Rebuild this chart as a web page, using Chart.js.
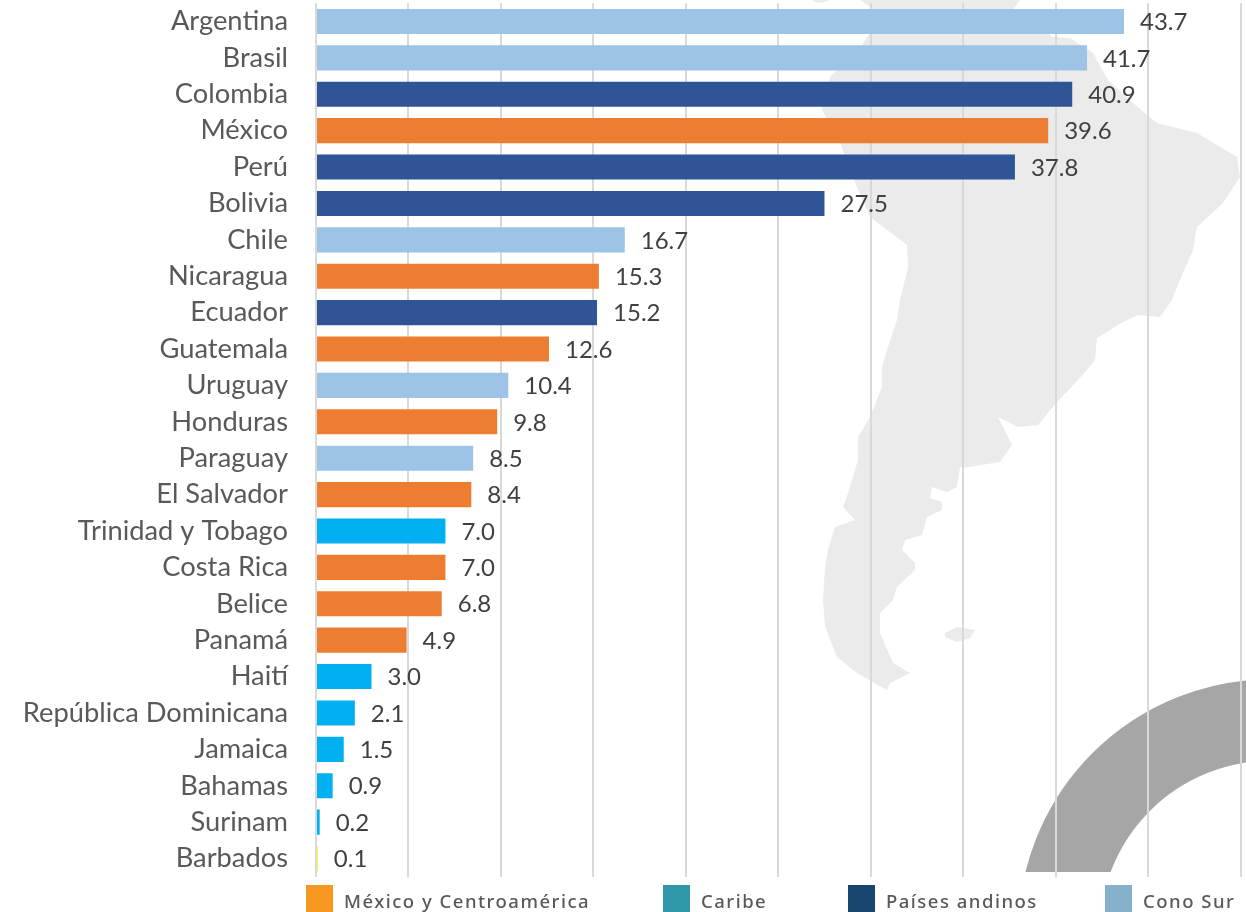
<!DOCTYPE html>
<html lang="es">
<head>
  <meta charset="UTF-8" />
  <title>América Latina y el Caribe</title>
  <style>
    html, body { margin: 0; background: #fff; overflow: hidden; }
    #wrap { position: relative; width: 1246px; height: 912px; overflow: hidden; }
    #bg, #chart { position: absolute; left: 0; top: 0; }
    .swatch { position: absolute; top: 885px; width: 27px; height: 27px; }
    .legend-text {
      position: absolute; top: 889px; line-height: 24px; white-space: nowrap;
      font-family: "Noto Sans", sans-serif; font-size: 18.5px; font-weight: 500;
      letter-spacing: 1.5px; color: #58595b;
    }
  </style>
</head>
<body>
  <div id="wrap">
    <!-- background art: map and ring, sits under the transparent canvas -->
    <svg id="bg" width="1246" height="912">
      <defs><clipPath id="ringClip"><rect x="0" y="0" width="1246" height="872" /></clipPath></defs>
      <polygon fill="#ebebeb" points="860,0 870,7 870,33 862,45 830,77 822,110 840,143 857,187 870,217 907,245 908,267 900,300 897,320 887,350 882,367 882,387 870,417 858,437 858,460 852,480 848,493 843,507 855,520 835,527 828,550 825,567 823,600 825,627 837,657 857,673 887,690 890,683 910,673 893,663 880,633 880,613 893,600 897,587 915,570 915,563 902,550 905,540 922,535 927,517 942,510 942,502 930,498 932,487 947,492 957,487 960,467 963,468 1000,462 1012,445 1007,435 998,417 1018,427 1038,425 1057,402 1080,378 1095,360 1097,338 1123,322 1138,315 1160,317 1172,300 1177,287 1193,250 1197,227 1223,203 1240,177 1237,157 1197,133 1157,123 1133,103 1108,80 1093,53 1070,38 1053,37 1019,15 1013,10 1020,0" />
      <polygon fill="#ebebeb" points="812,0 830,0 822,3 815,2" />
      <polygon fill="#ebebeb" points="945,633 957,627 975,630 970,638 957,642 945,637" />
      <circle cx="1271" cy="932" r="212" fill="none" stroke="#a6a6a6" stroke-width="81.5" clip-path="url(#ringClip)" />
    </svg>
    <canvas id="chart" width="1246" height="912"></canvas>
  </div>

  <script src="https://cdn.jsdelivr.net/npm/chart.js"></script>
  <script>
    const countries = ["Argentina", "Brasil", "Colombia", "México", "Perú", "Bolivia", "Chile", "Nicaragua", "Ecuador", "Guatemala", "Uruguay", "Honduras", "Paraguay", "El Salvador", "Trinidad y Tobago", "Costa Rica", "Belice", "Panamá", "Haití", "República Dominicana", "Jamaica", "Bahamas", "Surinam", "Barbados"];
    const values = [43.7, 41.7, 40.9, 39.6, 37.8, 27.5, 16.7, 15.3, 15.2, 12.6, 10.4, 9.8, 8.5, 8.4, 7.0, 7.0, 6.8, 4.9, 3.0, 2.1, 1.5, 0.9, 0.2, 0.1];
    const barColors = ["#9dc3e6", "#9dc3e6", "#2f5597", "#ed7d31", "#2f5597", "#2f5597", "#9dc3e6", "#ed7d31", "#2f5597", "#ed7d31", "#9dc3e6", "#ed7d31", "#9dc3e6", "#ed7d31", "#00b0f0", "#ed7d31", "#ed7d31", "#ed7d31", "#00b0f0", "#00b0f0", "#00b0f0", "#00b0f0", "#00b0f0", "#ffff00"];
    const legendNames = ["México y Centroamérica", "Caribe", "Países andinos", "Cono Sur"];
    const legendColors = ["#f6981f", "#2f97a8", "#16466e", "#85b1cd"];

    // legend sits at uneven spots in the original, so plain elements are easier
    const swatchLeft = [306, 663, 848, 1105];
    const textLeft = [344, 701, 886, 1143];
    const wrap = document.getElementById("wrap");
    legendNames.forEach((name, i) => {
      const sw = document.createElement("div");
      sw.className = "swatch";
      sw.style.left = swatchLeft[i] + "px";
      sw.style.background = legendColors[i];
      wrap.appendChild(sw);
      const txt = document.createElement("div");
      txt.className = "legend-text";
      txt.style.left = textLeft[i] + "px";
      txt.textContent = name;
      wrap.appendChild(txt);
    });

    const valueLabels = {
      id: "valueLabels",
      afterDatasetsDraw(chart) {
        const ctx = chart.ctx;
        ctx.save();
        ctx.font = '24px Lato, sans-serif';
        ctx.fillStyle = "#404040";
        ctx.textAlign = "left";
        ctx.textBaseline = "middle";
        chart.getDatasetMeta(0).data.forEach((bar, i) => {
          ctx.fillText(values[i].toFixed(1), bar.x + 16, bar.y + 1);
        });
        ctx.restore();
      }
    };

    new Chart(document.getElementById("chart"), {
      type: "bar",
      data: {
        labels: countries,
        datasets: [{
          data: values,
          backgroundColor: barColors,
          barPercentage: 0.69,
          categoryPercentage: 1
        }]
      },
      options: {
        indexAxis: "y",
        responsive: false,
        animation: false,
        layout: { padding: { left: 0, right: 5.5, top: 3.3, bottom: 35.3 } },
        plugins: { legend: { display: false }, tooltip: { enabled: false } },
        scales: {
          x: {
            min: 0,
            max: 50,
            ticks: { display: false, stepSize: 5 },
            grid: { color: "#d9d9d9", lineWidth: 2, drawTicks: false },
            border: { display: false },
            afterFit: s => { s.height = 0; }
          },
          y: {
            grid: { display: false, drawTicks: false },
            border: { display: false },
            ticks: {
              autoSkip: false,
              padding: 28,
              color: "#595959",
              font: { family: "Lato, sans-serif", size: 27.3 }
            },
            // tick padding also gets added above and below the axis, drop that
            afterFit: s => { s.width = 316; s.paddingTop = 0; s.paddingBottom = 0; }
          }
        }
      },
      plugins: [valueLabels]
    });
  </script>
</body>
</html>
